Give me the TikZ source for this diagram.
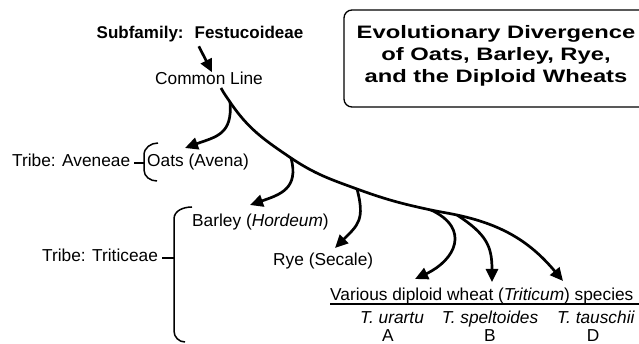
\documentclass[tikz,border=0pt]{standalone}
\usepackage{fontspec}
\setmainfont{Liberation Sans}
\setsansfont{Liberation Sans}
\newfontfamily\titlefont{Liberation Sans}[FakeStretch=1.32]
\tikzset{every picture/.style={/utils/exec={\sffamily}}}
\usetikzlibrary{arrows.meta}
\usetikzlibrary{positioning}
\tikzset{
  lbl/.style={inner sep=0pt, font=\fontsize{17.3}{20}\selectfont},
  branch/.style={line width=2.7pt, -{Triangle[length=13pt,width=12pt]}},
  brace/.style={line width=1.5pt},
}

\begin{document}
\begin{tikzpicture}[x=1pt,y=-1pt]
  \clip (0,0) rectangle (639,344);

  % title
  \draw [line width=1.3pt, rounded corners=8pt] (344,10) rectangle (660,107);
  \node [align=center, inner sep=0pt, font=\titlefont\bfseries\fontsize{18}{22.2}\selectfont] (title) at (496,56)
    {Evolutionary Divergence\\of Oats, Barley, Rye,\\and the Diploid Wheats};

  % labels
  \node [lbl, anchor=base, font=\bfseries\fontsize{17}{20}\selectfont] (subfam) at (200,39) {Subfamily: \ Festucoideae};
  \node [lbl, anchor=base west] (common) at (155,85) {Common Line};
  \node [lbl, anchor=base west] (aveneae) at (12,167) {Tribe: Aveneae};
  \node [lbl, anchor=base west] (oats) at (147,167) {Oats (Avena)};
  \node [lbl, anchor=base west] (barley) at (192,227) {Barley (\textit{Hordeum})};
  \node [lbl, anchor=base west] (triticeae) at (42,262) {Tribe: Triticeae};
  \node [lbl, anchor=base west] (rye) at (273,266) {Rye (Secale)};
  \node [lbl, anchor=base west] (diploid) at (330,300) {Various diploid wheat (\textit{Triticum}) species};
  \node [lbl, anchor=base] (urartu) at (392,323) {\textit{T. urartu}};
  \node [lbl, anchor=base] (speltoides) at (490,323) {\textit{T. speltoides}};
  \node [lbl, anchor=base] (tauschii) at (596,323) {\textit{T. tauschii}};
  \node [lbl, anchor=base] (gA) at (388,341) {A};
  \node [lbl, anchor=base] (gB) at (490,341) {B};
  \node [lbl, anchor=base] (gD) at (593,341) {D};
  \draw [line width=1.1pt] ([yshift=-4pt]diploid.base west) -- ++(320,0);

  \draw [branch, shorten <=4pt] ([xshift=-3pt]subfam.south) -- ([xshift=3pt]common.north);

  % forks on the common line
  \coordinate (root) at (221,88);
  \coordinate (oatsfork) at (230,102);
  \coordinate (barleyfork) at (291,158);
  \coordinate (ryefork) at (357,189);
  \coordinate (urartufork) at (431,210);
  \coordinate (speltfork) at (457,215);

  \coordinate (oatstip) at (185,148);
  \coordinate (barleytip) at (250,205);
  \coordinate (ryetip) at (335,248);
  \coordinate (urartutip) at (415,279);
  \coordinate (spelttip) at (492,282);
  \coordinate (tauschiitip) at (563,281);

  \draw [branch] (root) to[out=-62,in=124] (oatsfork) to[out=-56,in=146] (barleyfork)
    to[out=-34,in=160] (ryefork) to[out=-20,in=168] (urartufork)
    to[out=-12,in=168] (speltfork) to[out=-12,in=130] (tauschiitip);
  \draw [branch] (oatsfork) to[out=-85,in=20,looseness=1.3] (oatstip);
  \draw [branch] (barleyfork) to[out=-75,in=19,looseness=1.3] (barleytip);
  \draw [branch] (ryefork) to[out=-75,in=45,looseness=1.3] (ryetip);
  \draw [branch] (urartufork) to[out=-25,in=25,looseness=1.6] (urartutip);
  \draw [branch] (speltfork) to[out=-33,in=90,looseness=1.2] (spelttip);

  % tribes
  \coordinate (oatsmid) at (144,163);
  \draw [brace] (158,143) to[out=180,in=90] (oatsmid |- 0,155) -- (oatsmid |- 0,170) to[out=-90,in=180] (157,181);
  \draw [brace] ([xshift=4pt]aveneae.east |- oatsmid) -- (oatsmid);
  \coordinate (tritmid) at (174,258);
  \draw [brace] (192,207) to[out=180,in=90] (tritmid |- 0,219) -- (tritmid |- 0,331) to[out=-90,in=180] (185,342);
  \draw [brace] ([xshift=4pt]triticeae.east |- tritmid) -- (tritmid);
\end{tikzpicture}
\end{document}
